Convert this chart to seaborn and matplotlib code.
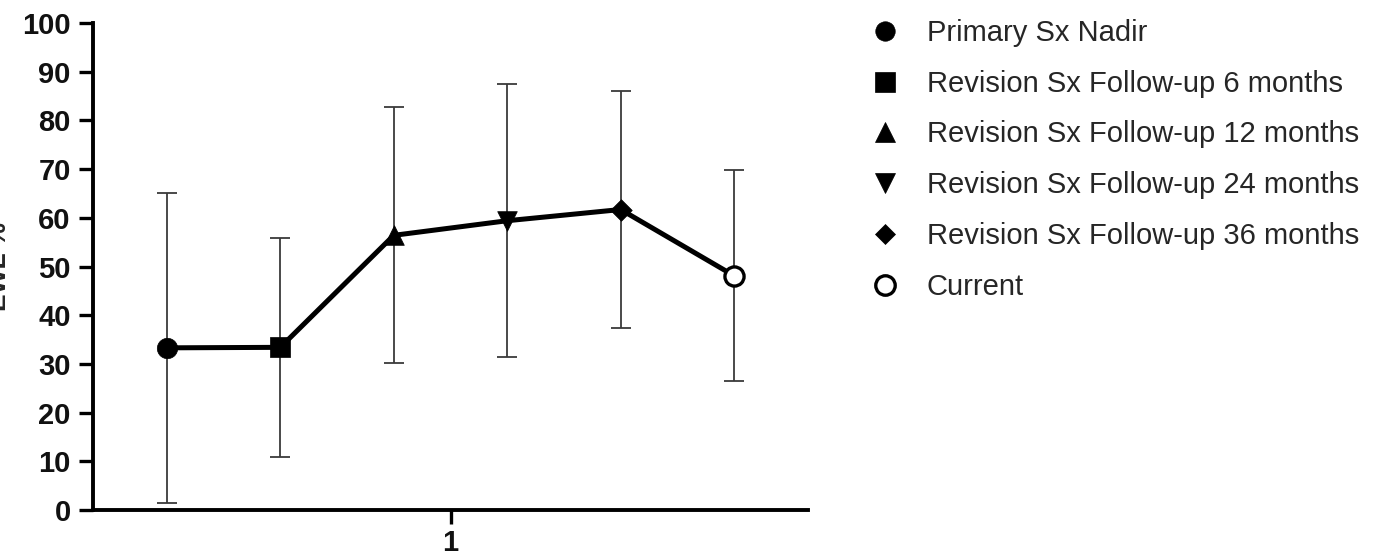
import numpy as np
import pandas as pd
import matplotlib
matplotlib.use("Agg")
import matplotlib.pyplot as plt
import seaborn as sns

# EWL % at each time point (mean and standard deviation)
timepoints = [
    "Primary Sx Nadir",
    "Revision Sx Follow-up 6 months",
    "Revision Sx Follow-up 12 months",
    "Revision Sx Follow-up 24 months",
    "Revision Sx Follow-up 36 months",
    "Current",
]
mean_ewl = [33.3, 33.4, 56.4, 59.4, 61.7, 48.1]
sd_ewl = [31.8, 22.5, 26.3, 28.0, 24.4, 21.7]
group_labels = ["1"]
y_ticks = [0, 10, 20, 30, 40, 50, 60, 70, 80, 90, 100]

sns.set_theme(style="ticks")
plt.rcParams["font.family"] = ["Liberation Sans", "DejaVu Sans"]

markers = {
    "Primary Sx Nadir": "o",
    "Revision Sx Follow-up 6 months": "s",
    "Revision Sx Follow-up 12 months": "^",
    "Revision Sx Follow-up 24 months": "v",
    "Revision Sx Follow-up 36 months": "D",
    "Current": "o",
}
sizes = {
    "Primary Sx Nadir": 215,
    "Revision Sx Follow-up 6 months": 190,
    "Revision Sx Follow-up 12 months": 200,
    "Revision Sx Follow-up 24 months": 200,
    "Revision Sx Follow-up 36 months": 120,
    "Current": 190,
}

# dodge the six time points around the single group position
n = len(timepoints)
dodge_width = 0.952
offsets = (np.arange(n) - (n - 1) / 2) * dodge_width / n
df = pd.DataFrame({
    "timepoint": timepoints,
    "x": 1 + offsets,
    "ewl": mean_ewl,
    "sd": sd_ewl,
})

fig = plt.figure(figsize=(13.83, 5.55), dpi=100)
ax = fig.add_axes([93 / 1383, 1 - 510 / 555, 715 / 1383, 487 / 555])

ax.errorbar(df["x"], df["ewl"], yerr=df["sd"], fmt="none",
            ecolor="#3a3a3a", elinewidth=1.3, capsize=7.5, capthick=1.3, zorder=1)
sns.lineplot(data=df, x="x", y="ewl", color="black", linewidth=3.6,
             sort=False, ax=ax, zorder=2, legend=False)

for tp, row in df.set_index("timepoint").iterrows():
    open_marker = tp == "Current"
    ax.scatter(row["x"], row["ewl"], marker=markers[tp], s=sizes[tp],
               facecolor="white" if open_marker else "black",
               edgecolor="black", linewidth=2.4 if open_marker else 0.5,
               zorder=3)

# legend entries
handles = []
for tp in timepoints:
    open_marker = tp == "Current"
    h = plt.Line2D([], [], linestyle="none", marker=markers[tp],
                   markersize=14 if markers[tp] != "D" else 10.5,
                   markerfacecolor="white" if open_marker else "black",
                   markeredgecolor="black",
                   markeredgewidth=2.4 if open_marker else 0.5)
    handles.append(h)
ax.legend(handles, timepoints, loc="upper left",
          bbox_to_anchor=(870 / 1383, 1 - 19 / 555), bbox_transform=fig.transFigure,
          frameon=False, fontsize=21, handletextpad=0.95, labelspacing=0.78,
          handlelength=1.0, borderaxespad=0, borderpad=0)

ax.set_xlim(0.5, 1.5)
ax.set_ylim(0, 100)
ax.set_xticks([1])
ax.set_xticklabels(group_labels)
ax.set_yticks(y_ticks)
ax.set_yticklabels([str(t) for t in y_ticks])
ax.set_xlabel("")
ax.set_ylabel("EWL %", fontsize=19, fontweight="bold")
ax.yaxis.set_label_coords(-82 / 715, 0.5)

for lab in ax.get_xticklabels() + ax.get_yticklabels():
    lab.set_fontweight("bold")
    lab.set_fontsize(21)
ax.tick_params(axis="both", direction="out", length=10, width=2.4, color="black",
               labelcolor="#111111")
ax.tick_params(axis="y", pad=6)
ax.tick_params(axis="x", pad=4)

sns.despine(ax=ax)
for side in ("left", "bottom"):
    ax.spines[side].set_linewidth(2.8)
    ax.spines[side].set_color("black")
    ax.spines[side].set_capstyle("projecting")

fig.savefig("out.png", dpi=100)
